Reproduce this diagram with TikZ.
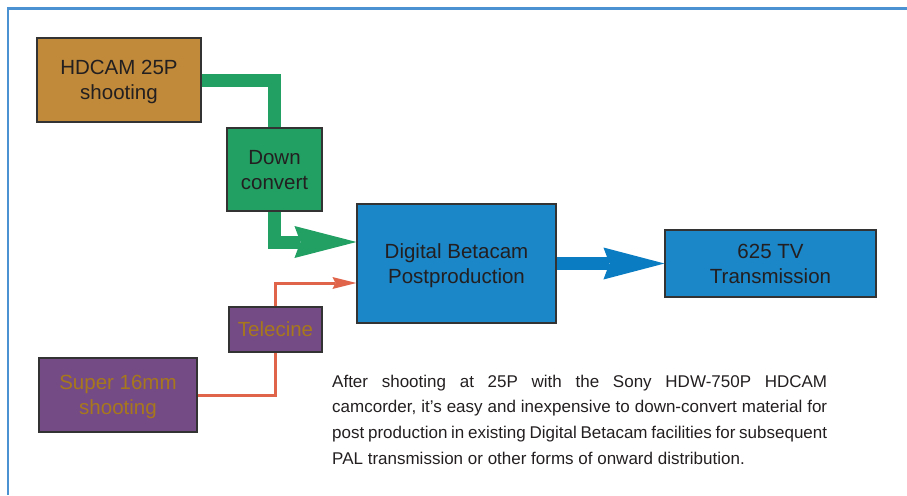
\documentclass[tikz,border=0pt]{standalone}
\usepackage{fontspec}
\setmainfont{Liberation Sans}
\usetikzlibrary{arrows.meta,calc}
\definecolor{frameblue}{HTML}{4A92D2}
\definecolor{hdbrown}{HTML}{C08A3A}
\definecolor{dcgreen}{HTML}{22A064}
\definecolor{bxblue}{HTML}{1B86C8}
\definecolor{arblue}{HTML}{0A7CC2}
\definecolor{purp}{HTML}{744B85}
\definecolor{orng}{HTML}{E0644A}
\definecolor{gold}{HTML}{A8781C}
\definecolor{boxline}{HTML}{333333}
\definecolor{boxtext}{HTML}{231F20}
\begin{document}
\begin{tikzpicture}[x=1pt,y=-1pt,
  box/.style={draw=boxline, line width=1.1pt, align=center, inner sep=0pt,
    font=\fontsize{20.5}{25}\selectfont, text=boxtext, text depth=0pt},
  fatgreen/.style={draw=dcgreen, line width=13pt},
  fatblue/.style={draw=arblue, line width=13pt},
  thinorange/.style={draw=orng, line width=3pt}]
\useasboundingbox (0,0) rectangle (907,495);
\draw[frameblue, line width=2.4pt] (7.7,495) -- (7.7,8.5) -- (907,8.5);

\node[box, fill=hdbrown, minimum width=164pt, minimum height=84pt] (hd) at (119,80) {HDCAM 25P\\shooting};
\node[box, fill=dcgreen, minimum width=95pt, minimum height=83pt] (dc) at (274.5,169.5) {Down\\convert};
\node[box, fill=bxblue, minimum width=199pt, minimum height=119pt] (dig) at (456.5,263.5) {Digital Betacam\\Postproduction};
\node[box, fill=bxblue, minimum width=211pt, minimum height=67pt] (tv) at (770.5,263.5) {625 TV\\Transmission};
\node[box, fill=purp, text=gold, minimum width=93pt, minimum height=45pt] (tel) at (275.5,329.5) {Telecine};
\node[box, fill=purp, text=gold, minimum width=158pt, minimum height=74pt] (s16) at (118,395) {Super 16mm\\shooting};

\coordinate (gin) at ($(dig.west)+(0,-21.5)$);
\coordinate (oin) at ($(dig.west)+(0,19.5)$);

\draw[fatgreen] (hd.east) -| (dc.north);
\draw[fatgreen, -{Stealth[length=62pt, width=32pt, inset=6pt, line width=0pt]}] (dc.south) |- (gin);
\draw[fatblue, -{Stealth[length=61pt, width=32pt, inset=6pt, line width=0pt]}] (dig.east) -- (tv.west);
\draw[thinorange] (s16.east) -| (tel.south);
\draw[thinorange, -{Stealth[length=24pt, width=12pt, inset=3pt, line width=0pt]}] (tel.north) |- (oin);

\node[anchor=north west, inner sep=0pt, font=\fontsize{17}{25.7}\selectfont, text=boxtext] (cap) at (332,374.5)
  {\vbox{\hbox to 495pt{After shooting at 25P with the Sony HDW-750P HDCAM}
  \hbox to 495pt{camcorder, it’s easy and inexpensive to down-convert material for}
  \hbox to 495pt{post production in existing Digital Betacam facilities for subsequent}
  \hbox{PAL transmission or other forms of onward distribution.}}};
\end{tikzpicture}
\end{document}
